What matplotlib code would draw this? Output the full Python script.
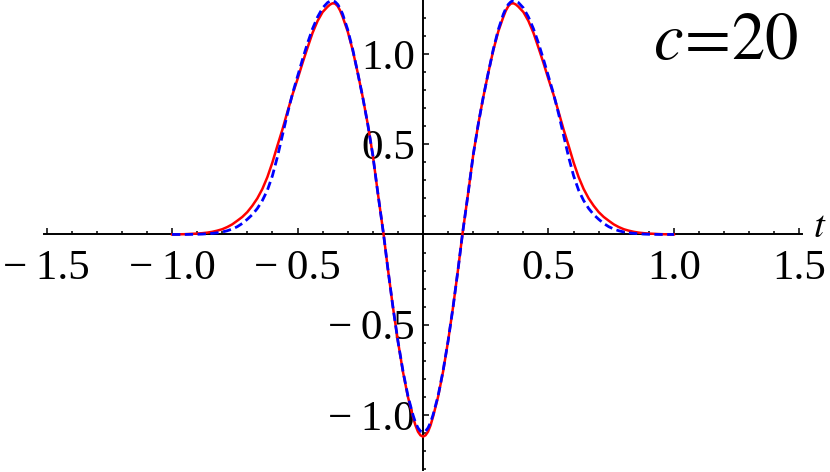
import numpy as np
import matplotlib
matplotlib.use("Agg")
import matplotlib.pyplot as plt
from matplotlib.ticker import MultipleLocator

plt.rcParams['font.family'] = ['Liberation Serif', 'DejaVu Serif']
plt.rcParams['mathtext.fontset'] = 'stix'

# values
t = [-1.0, -0.95, -0.9, -0.88, -0.86, -0.84, -0.82, -0.8, -0.78, -0.76, -0.74, -0.72,
     -0.7, -0.68, -0.66, -0.64, -0.62, -0.6, -0.58, -0.56, -0.54, -0.52, -0.5, -0.48,
     -0.46, -0.44, -0.42, -0.4, -0.38, -0.37, -0.36, -0.35, -0.34, -0.33, -0.32, -0.3,
     -0.28, -0.26, -0.24, -0.22, -0.2, -0.18, -0.157, -0.14, -0.12, -0.1, -0.08, -0.06,
     -0.04, -0.03, -0.02, -0.01, 0.0, 0.01, 0.02, 0.03, 0.04, 0.06, 0.08, 0.1, 0.12, 0.14,
     0.157, 0.18, 0.2, 0.22, 0.24, 0.26, 0.28, 0.3, 0.32, 0.33, 0.34, 0.35, 0.36, 0.37,
     0.38, 0.4, 0.42, 0.44, 0.46, 0.48, 0.5, 0.52, 0.54, 0.56, 0.58, 0.6, 0.62, 0.64,
     0.66, 0.68, 0.7, 0.72, 0.74, 0.76, 0.78, 0.8, 0.82, 0.84, 0.86, 0.88, 0.9, 0.95, 1.0]

u_red = [0.0, 0.0015, 0.005, 0.0071, 0.0101, 0.0146, 0.021, 0.029, 0.041, 0.056, 0.076, 0.097,
         0.124, 0.159, 0.200, 0.252, 0.318, 0.399, 0.492, 0.582, 0.68, 0.775, 0.86, 0.95,
         1.035, 1.117, 1.183, 1.232, 1.262, 1.274, 1.281, 1.279, 1.265, 1.24, 1.205, 1.125,
         1.02, 0.895, 0.76, 0.61, 0.44, 0.23, 0.0, -0.19, -0.40, -0.59, -0.76, -0.90,
         -1.01, -1.058, -1.093, -1.113, -1.12, -1.113, -1.093, -1.058, -1.01, -0.90, -0.76, -0.59, -0.40, -0.19,
         0.0, 0.23, 0.44, 0.61, 0.76, 0.895, 1.02, 1.125, 1.205, 1.24, 1.265, 1.279, 1.281, 1.274,
         1.262, 1.232, 1.183, 1.117, 1.035, 0.95, 0.86, 0.775, 0.68, 0.582, 0.492, 0.399, 0.318, 0.252,
         0.200, 0.159, 0.124, 0.097, 0.076, 0.056, 0.041, 0.029, 0.021, 0.0146, 0.0101, 0.0071, 0.005, 0.0015, 0.0]

u_blue = [0.0, 0.0, 0.001, 0.002, 0.004, 0.006, 0.009, 0.0137, 0.0205, 0.030, 0.043, 0.061,
          0.084, 0.110, 0.144, 0.188, 0.245, 0.325, 0.43, 0.55, 0.67, 0.78, 0.875, 0.97,
          1.06, 1.14, 1.205, 1.255, 1.285, 1.293, 1.295, 1.289, 1.275, 1.252, 1.22, 1.135,
          1.025, 0.895, 0.76, 0.61, 0.44, 0.23, 0.0, -0.19, -0.40, -0.59, -0.755, -0.895,
          -1.00, -1.042, -1.072, -1.09, -1.095, -1.09, -1.072, -1.042, -1.00, -0.895, -0.755, -0.59, -0.40, -0.19,
          0.0, 0.23, 0.44, 0.61, 0.76, 0.895, 1.025, 1.135, 1.22, 1.252, 1.275, 1.289, 1.295, 1.293,
          1.285, 1.255, 1.205, 1.14, 1.06, 0.97, 0.875, 0.78, 0.67, 0.55, 0.43, 0.325, 0.245, 0.188,
          0.144, 0.110, 0.084, 0.061, 0.043, 0.030, 0.0205, 0.0137, 0.009, 0.006, 0.004, 0.002, 0.001, 0.0, 0.0]

xticks = [-1.5, -1.0, -0.5, 0.5, 1.0, 1.5]
xlabels = ['\u2212\u20091.5', '\u2212\u20091.0', '\u2212\u20090.5', '0.5', '1.0', '1.5']
yticks = [-1.0, -0.5, 0.5, 1.0]
ylabels = ['\u2212\u20091.0', '\u2212\u20090.5', '0.5', '1.0']

fig = plt.figure(figsize=(8.3, 4.72), dpi=100)
ax = fig.add_axes([44 / 830, 2 / 472, 758 / 830, 470 / 472])

ax.plot(t, u_red, color=(1, 0, 0), lw=1.8, zorder=3, solid_joinstyle='round')
ax.plot(t, u_blue, color=(0, 0, 1), lw=2.0, dashes=(3.0, 1.6), zorder=4)

ax.set_xlim(-1.51, 1.51)
ax.set_ylim(-1.305, 1.299)

for s in ['top', 'right']:
    ax.spines[s].set_visible(False)
ax.spines['left'].set_position('zero')
ax.spines['bottom'].set_position('zero')
for s in ['left', 'bottom']:
    ax.spines[s].set_linewidth(1.4)
    ax.spines[s].set_zorder(2)

ax.set_xticks(xticks)
ax.set_xticklabels(xlabels)
ax.set_yticks(yticks)
ax.set_yticklabels(ylabels)
ax.xaxis.set_minor_locator(MultipleLocator(0.1))
ax.yaxis.set_minor_locator(MultipleLocator(0.1))
ax.tick_params(which='major', direction='in', length=4.3, width=1.1, labelsize=31)
ax.tick_params(which='minor', direction='in', length=2.5, width=1.1)
ax.tick_params(axis='x', which='major', pad=11)
ax.tick_params(axis='y', which='major', pad=6)
ax.patch.set_visible(False)

ax.text(1.555, 0.04, '$t$', fontsize=28, ha='left', va='center')
fig.text(726 / 830, 1 - 43 / 472, '$c\\!=\\!20$', fontsize=48, ha='center', va='center')

fig.savefig('out.png', dpi=100)
